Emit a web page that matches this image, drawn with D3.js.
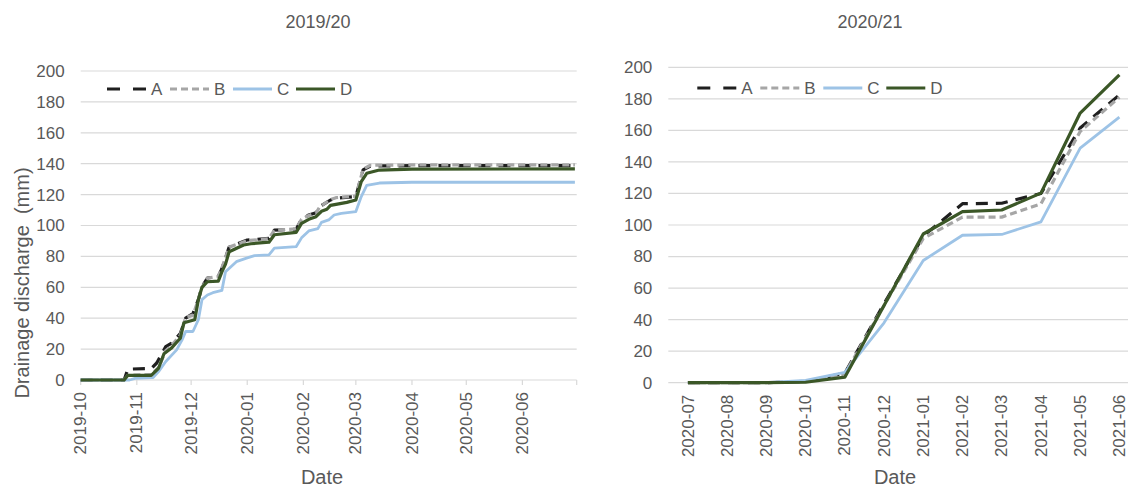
<!DOCTYPE html>
<html>
<head>
<meta charset="utf-8">
<script src="https://cdn.jsdelivr.net/npm/d3@7"></script>
<style>
  body { margin: 0; background: #fff; }
  svg { display: block; font-family: "Liberation Sans", Arial, sans-serif; }
</style>
</head>
<body>
<svg id="chart" width="1128" height="489"></svg>
<script>
const seriesNames = ['A', 'B', 'C', 'D'];
const yTicks = [0, 20, 40, 60, 80, 100, 120, 140, 160, 180, 200];

// 2019/20 - cumulative drainage, breakpoints
const datesA19 = ['2019-10-01','2019-10-25','2019-10-27','2019-11-09','2019-11-12','2019-11-17','2019-11-20','2019-11-25','2019-11-28','2019-12-02','2019-12-05','2019-12-07','2019-12-10','2019-12-16','2019-12-18','2019-12-22','2020-01-01','2020-01-13','2020-01-16','2020-01-28','2020-01-31','2020-02-04','2020-02-08','2020-02-10','2020-02-16','2020-02-19','2020-03-01','2020-03-05','2020-03-09','2020-04-01','2020-06-30'];
const valuesA19 = [0,0,7,7.5,11,21.6,23.7,30,40,43,52,60.4,66,67,72,86,90.6,91.7,97,97.5,104,106.8,108.3,112.2,116.5,117.6,118.7,136,138.5,138.7,138.7];

const datesB19 = ['2019-10-01','2019-10-25','2019-10-27','2019-11-09','2019-11-13','2019-11-17','2019-11-20','2019-11-25','2019-11-28','2019-12-02','2019-12-05','2019-12-07','2019-12-10','2019-12-16','2019-12-18','2019-12-22','2020-01-01','2020-01-13','2020-01-16','2020-01-28','2020-01-31','2020-02-04','2020-02-08','2020-02-10','2020-02-16','2020-02-19','2020-03-01','2020-03-05','2020-03-09','2020-04-01','2020-06-30'];
const valuesB19 = [0,0,3,3.5,8,19,22,29,40.5,42,52,60,66,67,72.5,86,90.2,91.5,97,97.8,104,106.5,108,112,116.8,118,119,136.5,139,139.2,139.2];

const datesC19 = ['2019-10-01','2019-10-28','2019-10-31','2019-11-10','2019-11-13','2019-11-17','2019-11-23','2019-11-26','2019-11-28','2019-12-02','2019-12-05','2019-12-07','2019-12-10','2019-12-13','2019-12-18','2019-12-20','2019-12-26','2020-01-01','2020-01-05','2020-01-13','2020-01-16','2020-01-28','2020-01-31','2020-02-04','2020-02-09','2020-02-11','2020-02-15','2020-02-18','2020-02-22','2020-03-01','2020-03-04','2020-03-07','2020-03-14','2020-04-01','2020-06-30'];
const valuesC19 = [0,0,1,1.5,5.4,12,19.5,26,31.4,31.4,39,52,55,56.5,58,70,76.6,79,80.5,81,85.3,86.3,92,96.5,98,102,103.6,106.8,107.9,109,118.7,126,127.5,128,128];

const datesD19 = ['2019-10-01','2019-10-25','2019-10-27','2019-11-09','2019-11-13','2019-11-16','2019-11-20','2019-11-25','2019-11-27','2019-11-30','2019-12-03','2019-12-05','2019-12-07','2019-12-10','2019-12-16','2019-12-18','2019-12-20','2019-12-22','2019-12-30','2020-01-03','2020-01-13','2020-01-16','2020-01-28','2020-01-31','2020-02-04','2020-02-08','2020-02-11','2020-02-14','2020-02-16','2020-02-25','2020-03-01','2020-03-04','2020-03-07','2020-03-14','2020-04-01','2020-06-30'];
const valuesD19 = [0,0,3,3,7.6,17,20.5,27,37,38,39,52,60,63.6,64,70,75,83,87.4,88.2,89.2,94,95.5,101.4,104,105.7,109.2,110.5,113,115,116.5,128.4,133.8,135.9,136.5,136.6];

// 2020/21 - monthly
const months21 = ['2020-07','2020-08','2020-09','2020-10','2020-11','2020-12','2021-01','2021-02','2021-03','2021-04','2021-05','2021-06'];
const valuesA21 = [0,0,0,0.8,6,50,93,113.5,113.8,120,161.5,182.5];
const valuesB21 = [0,0,0,0.8,5.5,49,91.5,105,105,113.4,159.3,181];
const valuesC21 = [0,0,0,1.5,6.5,38,77.5,93.5,94,102,148.7,168.4];
const valuesD21 = [0,0,0,0.3,3.5,49,94.3,108.5,109.5,120.2,171,195.2];

const lineStyle = {
  A: { color: '#1f1f1f', dash: '12,8', width: 3.2 },
  B: { color: '#a6a6a6', dash: '7,4', width: 3.2 },
  C: { color: '#9dc3e6', dash: null, width: 2.8 },
  D: { color: '#3b5727', dash: null, width: 3.2 }
};
const textColor = '#595959';
const gridColor = '#d9d9d9';

const parseDay = d3.timeParse('%Y-%m-%d');
const svg = d3.select('#chart');

function drawPanel(p) {
  const g = svg.append('g');
  const y = d3.scaleLinear().domain([0, 200]).range([p.bottom, p.top]);

  // gridlines
  g.selectAll('.grid')
    .data(yTicks)
    .enter().append('line')
    .attr('x1', p.left).attr('x2', p.right)
    .attr('y1', d => y(d)).attr('y2', d => y(d))
    .attr('stroke', gridColor).attr('stroke-width', 1.2);

  g.selectAll('.ylab')
    .data(yTicks)
    .enter().append('text')
    .attr('x', p.left - 16)
    .attr('y', d => y(d))
    .attr('dy', '0.35em')
    .attr('text-anchor', 'end')
    .attr('fill', textColor)
    .attr('font-size', 17)
    .text(d => d);

  // x ticks + labels
  p.xTicks.forEach(t => {
    const xx = p.x(t.value);
    if (p.tickMarks) {
      g.append('line')
        .attr('x1', xx).attr('x2', xx)
        .attr('y1', p.bottom).attr('y2', p.bottom + 5)
        .attr('stroke', gridColor).attr('stroke-width', 1.2);
    }
    if (t.label) {
      g.append('text')
        .attr('transform', `translate(${xx},${p.bottom + 12}) rotate(-90)`)
        .attr('dy', '0.33em')
        .attr('text-anchor', 'end')
        .attr('fill', textColor)
        .attr('font-size', 17)
        .text(t.label);
    }
  });

  // lines
  const line = d3.line()
    .x(d => p.x(d.x))
    .y(d => y(d.v));
  seriesNames.forEach(name => {
    const st = lineStyle[name];
    g.append('path')
      .datum(p.series[name])
      .attr('fill', 'none')
      .attr('stroke', st.color)
      .attr('stroke-width', st.width)
      .attr('stroke-dasharray', st.dash)
      .attr('stroke-linejoin', 'round')
      .attr('d', line);
  });

  // legend
  seriesNames.forEach((name, i) => {
    const st = lineStyle[name];
    const lx = p.legendX + i * 63;
    g.append('line')
      .attr('x1', lx).attr('x2', lx + 39)
      .attr('y1', p.legendY).attr('y2', p.legendY)
      .attr('stroke', st.color)
      .attr('stroke-width', st.width)
      .attr('stroke-dasharray', name === 'A' ? '13,13' : st.dash);
    g.append('text')
      .attr('x', lx + 44)
      .attr('y', p.legendY)
      .attr('dy', '0.36em')
      .attr('fill', textColor)
      .attr('font-size', 17)
      .text(name);
  });

  // titles
  g.append('text')
    .attr('x', p.titleX).attr('y', 28)
    .attr('text-anchor', 'middle')
    .attr('fill', textColor)
    .attr('font-size', 18)
    .text(p.title);

  g.append('text')
    .attr('x', p.dateX).attr('y', 484)
    .attr('text-anchor', 'middle')
    .attr('fill', textColor)
    .attr('font-size', 20)
    .text('Date');
}

// left panel: time axis
const x19 = d3.scaleTime()
  .domain([parseDay('2019-10-01'), parseDay('2020-07-01')])
  .range([80.7, 576.7]);
const monthTicks19 = d3.timeMonth.range(parseDay('2019-10-01'), parseDay('2020-07-02'));
const fmtMonth = d3.timeFormat('%Y-%m');

function toPoints(dates, values) {
  return dates.map((d, i) => ({ x: parseDay(d), v: values[i] }));
}

drawPanel({
  left: 80.7, right: 576.7, top: 71, bottom: 380,
  x: x19,
  xTicks: monthTicks19.map((d, i) => ({ value: d, label: i < monthTicks19.length - 1 ? fmtMonth(d) : null })),
  tickMarks: true,
  series: {
    A: toPoints(datesA19, valuesA19),
    B: toPoints(datesB19, valuesB19),
    C: toPoints(datesC19, valuesC19),
    D: toPoints(datesD19, valuesD19)
  },
  legendX: 107, legendY: 89,
  title: '2019/20', titleX: 318,
  dateX: 322
});

// right panel: category axis
const x21 = d3.scalePoint()
  .domain(months21)
  .range([668.3, 1139])
  .padding(0.5);

function toCat(values) {
  return months21.map((m, i) => ({ x: m, v: values[i] }));
}

drawPanel({
  left: 668.3, right: 1128, top: 67.3, bottom: 382.7,
  x: x21,
  xTicks: months21.map(m => ({ value: m, label: m })),
  tickMarks: false,
  series: {
    A: toCat(valuesA21),
    B: toCat(valuesB21),
    C: toCat(valuesC21),
    D: toCat(valuesD21)
  },
  legendX: 697.3, legendY: 88,
  title: '2020/21', titleX: 870,
  dateX: 895
});

// shared y-axis title
svg.append('text')
  .attr('transform', 'translate(22,283) rotate(-90)')
  .attr('dy', '0.35em')
  .attr('text-anchor', 'middle')
  .attr('fill', textColor)
  .attr('font-size', 20)
  .attr('xml:space', 'preserve')
  .style('white-space', 'pre')
  .text('Drainage discharge  (mm)');
</script>
</body>
</html>
